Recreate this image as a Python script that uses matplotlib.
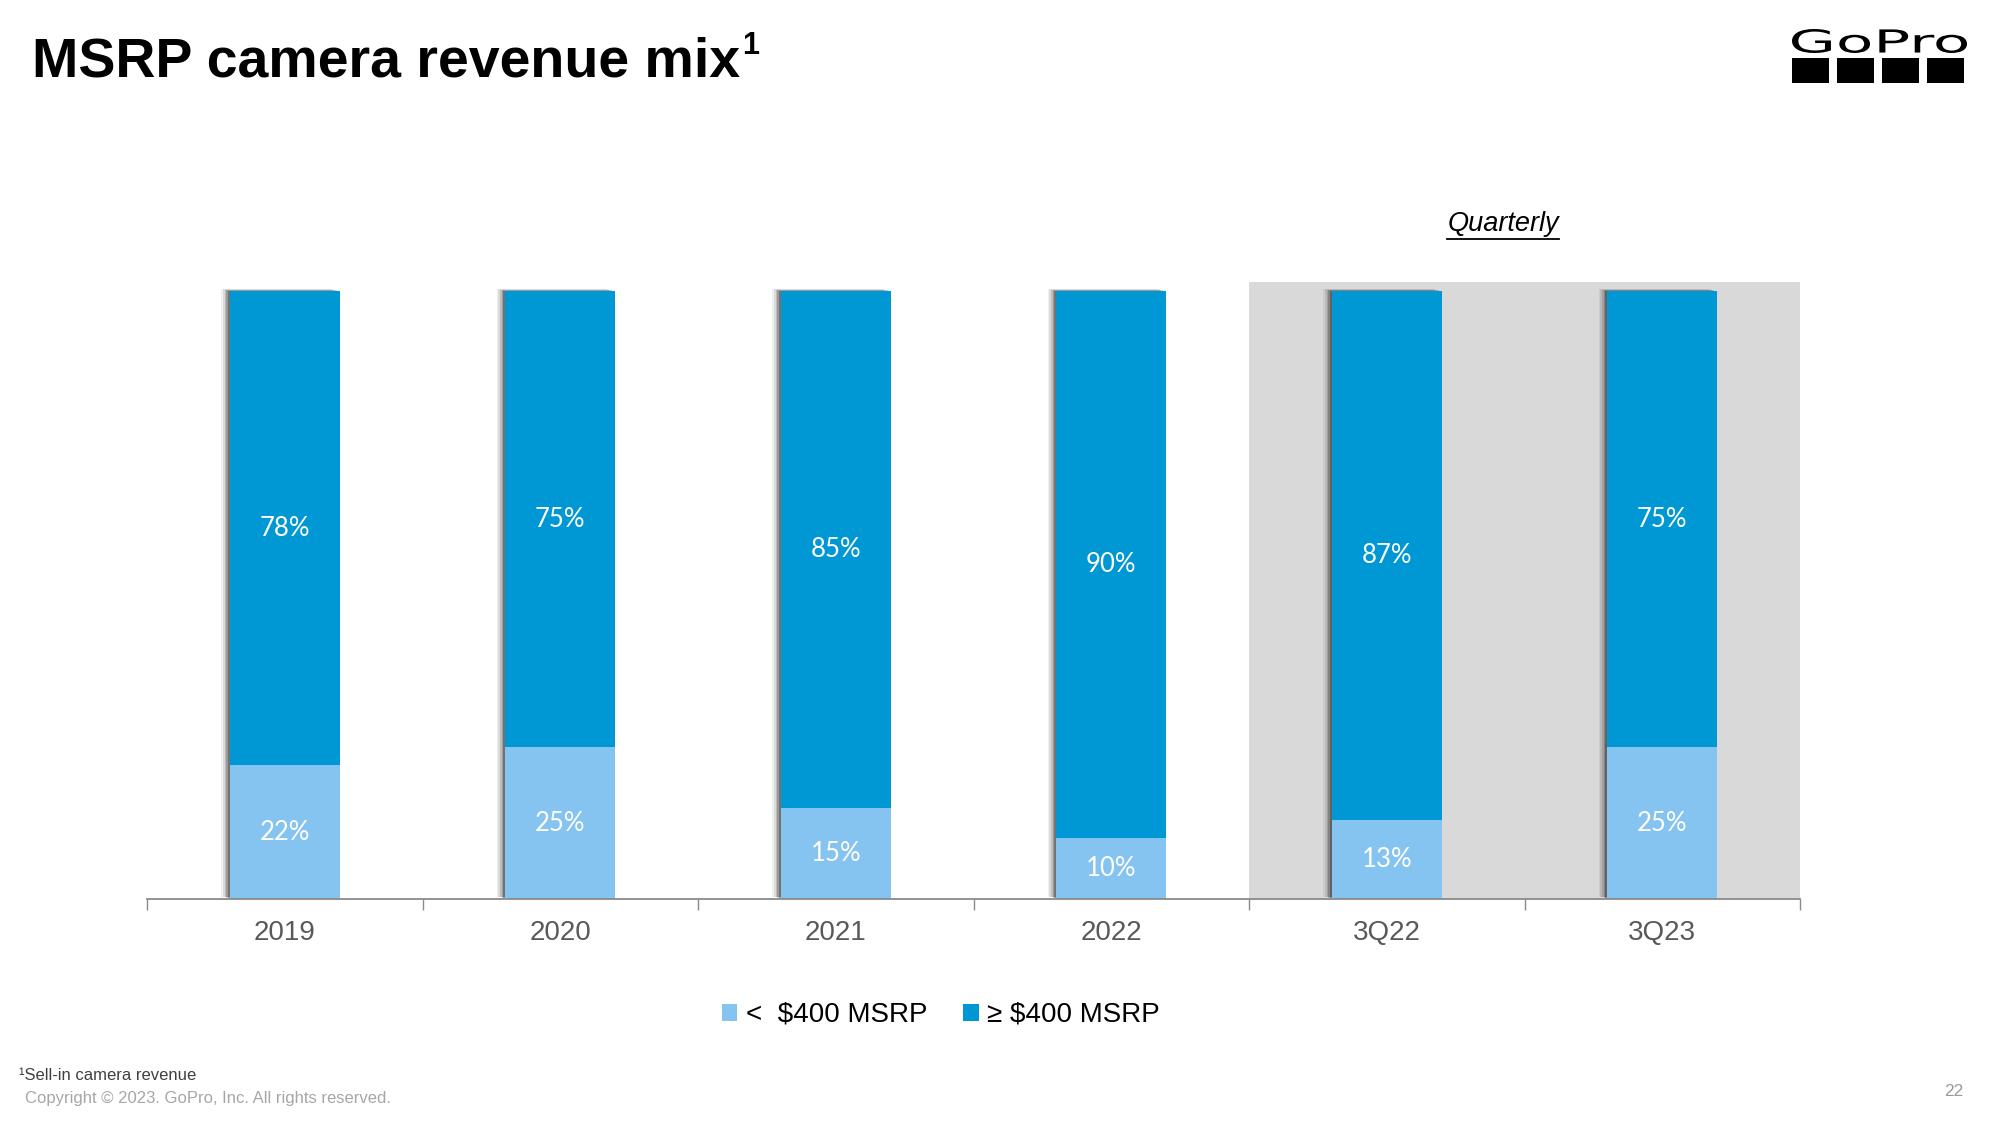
import numpy as np
import matplotlib
matplotlib.use("Agg")
import matplotlib.pyplot as plt
import matplotlib.patheffects as pe
from matplotlib.patches import Patch, Rectangle, PathPatch
from matplotlib.lines import Line2D
from matplotlib.textpath import TextPath
from matplotlib.font_manager import FontProperties
from matplotlib.transforms import Affine2D

# data (share of camera revenue, %)
categories = ['2019', '2020', '2021', '2022', '3Q22', '3Q23']
below_400 = [22, 25, 15, 10, 13, 25]
above_400 = [78, 75, 85, 90, 87, 75]
series_names = ['<  $400 MSRP', '≥ $400 MSRP']

LIGHT = '#85C3F0'
DARK = '#0098D4'
GREY_BG = '#D9D9D9'
AXIS_GREY = '#8A8A8A'

plt.rcParams['font.family'] = ['Liberation Sans', 'DejaVu Sans']

fig = plt.figure(figsize=(20, 11.25), dpi=100)
ax = fig.add_axes([0.0735, 0.2009, 0.8265, 0.5484])

x = np.arange(len(categories))

# quarterly shaded block
ax.axvspan(3.5, 5.5, color=GREY_BG, zorder=0, lw=0)

# soft grey shadow on the left edge of each bar
shadow = [pe.SimplePatchShadow(offset=(-6, 1.5), shadow_rgbFace='#000000', alpha=0.06),
          pe.SimplePatchShadow(offset=(-4.8, 1.3), shadow_rgbFace='#000000', alpha=0.09),
          pe.SimplePatchShadow(offset=(-3.6, 1.1), shadow_rgbFace='#000000', alpha=0.13),
          pe.SimplePatchShadow(offset=(-2.4, 0.8), shadow_rgbFace='#000000', alpha=0.18),
          pe.SimplePatchShadow(offset=(-1.2, 0.4), shadow_rgbFace='#000000', alpha=0.25),
          pe.Normal()]

b_lo = ax.bar(x, below_400, width=0.4, color=LIGHT, zorder=2, path_effects=shadow)
b_hi = ax.bar(x, above_400, width=0.4, bottom=below_400, color=DARK, zorder=2,
              path_effects=shadow)

ax.bar_label(b_lo, labels=[f'{v}%' for v in below_400], label_type='center',
             color='white', fontsize=18.5, family='Lato')
ax.bar_label(b_hi, labels=[f'{v}%' for v in above_400], label_type='center',
             color='white', fontsize=18.5, family='Lato')

ax.set_xlim(-0.5, 5.5)
ax.set_ylim(0, 101.5)
for s in ['top', 'right', 'left']:
    ax.spines[s].set_visible(False)
ax.spines['bottom'].set_color(AXIS_GREY)
ax.spines['bottom'].set_linewidth(1.3)
ax.set_yticks([])
ax.set_xticks(np.arange(-0.5, 6, 1))
ax.set_xticklabels([])
ax.tick_params(axis='x', which='major', length=8, width=1, color=AXIS_GREY)
ax.set_xticks(x, minor=True)
ax.set_xticklabels(categories, minor=True)
ax.tick_params(axis='x', which='minor', length=0, pad=15, labelsize=20,
               labelcolor='#595959')

# title + superscript
title = fig.text(0.016, 0.9316, 'MSRP camera revenue mix', fontsize=40, fontweight='bold',
                 va='baseline', ha='left', color='black')
fig.canvas.draw()
tb = title.get_window_extent()
fig.text(tb.x1 / 2000 + 0.001, 1 - 31 / 1125, '1', fontsize=22, fontweight='bold',
         va='top', ha='left', color='black')

# Quarterly header with underline
qt = fig.text(0.7515, 1 - 224 / 1125, 'Quarterly', fontsize=19.5, style='italic',
              ha='center', va='center', color='black')
fig.canvas.draw()
bb = qt.get_window_extent()
uy = 1 - 238.5 / 1125
fig.add_artist(Line2D([bb.x0 / 2000, bb.x1 / 2000], [uy, uy], color='black', lw=1.3,
                      transform=fig.transFigure))

# legend
handles = [Patch(facecolor=LIGHT, edgecolor='none'), Patch(facecolor=DARK, edgecolor='none')]
fig.legend(handles, series_names, loc='center', bbox_to_anchor=(0.4705, 0.0978), ncol=2,
           frameon=False, fontsize=20, handlelength=0.55, handleheight=0.55,
           handletextpad=0.3, columnspacing=1.3)

# footnotes
fig.text(0.0095, 1 - 1075 / 1125, '¹Sell-in camera revenue', fontsize=12,
         color='#404040', va='center')
fig.text(0.0125, 1 - 1098 / 1125, 'Copyright © 2023. GoPro, Inc. All rights reserved.',
         fontsize=12, color='#A6A6A6', va='center')
fig.text(0.977, 1 - 1092 / 1125, '22', fontsize=12.5, color='#999999', va='center',
         ha='center')

# GoPro logo
tp = TextPath((0, 0), 'GoPro', size=1, prop=FontProperties(family='DejaVu Sans'))
ext = tp.get_extents()
lx0, lx1 = 17.92, 19.67
ly0, ly1 = (1125 - 53) / 100, (1125 - 29) / 100
tr = Affine2D().translate(-ext.x0, -ext.y0).scale((lx1 - lx0) / ext.width,
                                                  (ly1 - ly0) / ext.height).translate(lx0, ly0)
fig.add_artist(PathPatch(tp, transform=tr + fig.dpi_scale_trans, color='black', lw=0))
sq_w, sq_gap = 0.37, 0.08
for i in range(4):
    fig.add_artist(Rectangle((lx0 + i * (sq_w + sq_gap), (1125 - 83) / 100), sq_w, 0.25,
                             transform=fig.dpi_scale_trans, color='black', lw=0))

fig.savefig('out.png', dpi=100, facecolor='white')
